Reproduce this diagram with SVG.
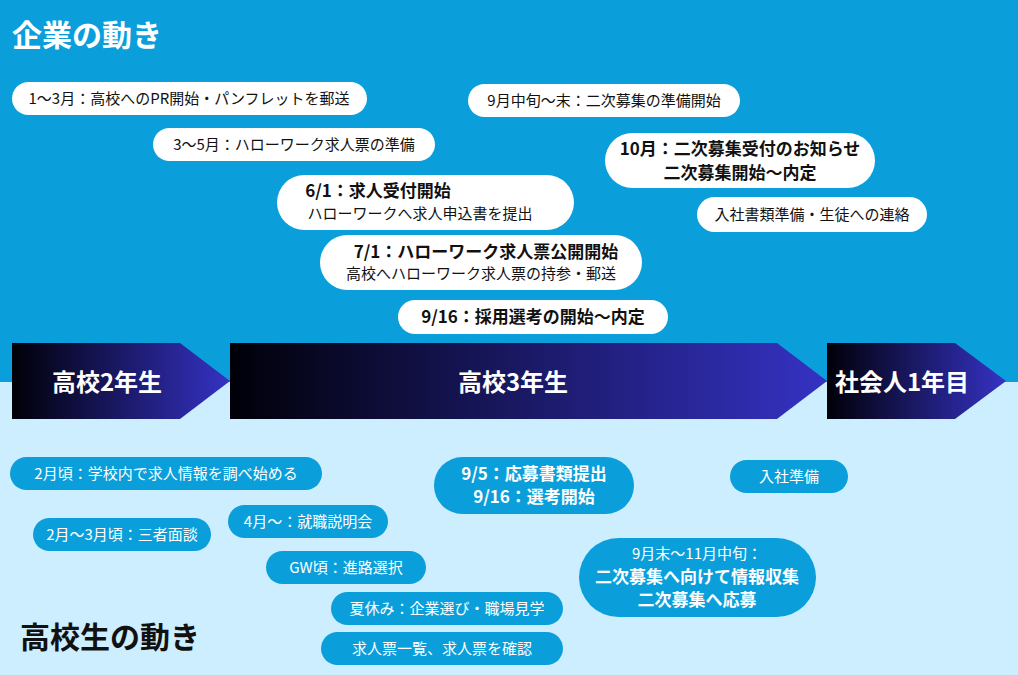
<svg xmlns="http://www.w3.org/2000/svg" width="1018" height="675" viewBox="0 0 1018 675">
<defs>
<linearGradient id="g" x1="0" y1="0" x2="1" y2="0"><stop offset="0" stop-color="#000008"/><stop offset="1" stop-color="#3532C4"/></linearGradient>
<style>
text{font-family:"Noto Sans CJK JP","Noto Sans",sans-serif;}
.w{fill:#fff}
.t{fill:#111;font-size:15px;text-anchor:middle}
.tb{fill:#111;font-size:17px;font-weight:bold;text-anchor:middle}
.b{fill:#0A9FDB}
.bt{fill:#fff;font-size:15px;text-anchor:middle}
.bb{fill:#fff;font-size:17px;font-weight:bold;text-anchor:middle}
.h{fill:#fff;font-size:24px;font-weight:bold;text-anchor:middle}
</style>
</defs>
<rect width="1018" height="382" fill="#0A9FDB"/>
<rect y="382" width="1018" height="293" fill="#CCEEFF"/>
<text x="12" y="46" font-size="30" font-weight="bold" fill="#fff">企業の動き</text>
<text x="20" y="648" font-size="30" font-weight="bold" fill="#111">高校生の動き</text>
<g id="c1"><rect class="w" x="12" y="82" width="355" height="33" rx="16.5"/><text class="t" x="189" y="104">1～3月：高校へのPR開始・パンフレットを郵送</text></g>
<g id="c2"><rect class="w" x="153" y="128" width="282" height="33" rx="16.5"/><text class="t" x="294" y="150">3～5月：ハローワーク求人票の準備</text></g>
<g id="c3"><rect class="w" x="277" y="175" width="297" height="55" rx="27.5"/><text class="tb" x="378" y="197">6/1：求人受付開始</text><text class="t" x="420" y="219">ハローワークへ求人申込書を提出</text></g>
<g id="c4"><rect class="w" x="320" y="235" width="322" height="55" rx="27.5"/><text class="tb" x="486" y="258">7/1：ハローワーク求人票公開開始</text><text class="t" x="481" y="279">高校へハローワーク求人票の持参・郵送</text></g>
<g id="c5"><rect class="w" x="398" y="300" width="270" height="34" rx="17"/><text class="tb" x="533" y="323">9/16：採用選考の開始～内定</text></g>
<g id="c6"><rect class="w" x="468" y="84" width="272" height="33" rx="16.5"/><text class="t" x="604" y="106">9月中旬～末：二次募集の準備開始</text></g>
<g id="c7"><rect class="w" x="605" y="133" width="270" height="55" rx="27.5"/><text class="tb" x="740" y="155">10月：二次募集受付のお知らせ</text><text class="tb" x="740" y="179">二次募集開始～内定</text></g>
<g id="c8"><rect class="w" x="697" y="197" width="230" height="35" rx="17.5"/><text class="t" x="812" y="220">入社書類準備・生徒への連絡</text></g>
<g id="y1"><polygon points="12,343 180,343 230,381 180,419 12,419" fill="url(#g)"/><text class="h" x="107" y="391">高校2年生</text></g>
<g id="y2"><polygon points="230,343 777,343 827,381 777,419 230,419" fill="url(#g)"/><text class="h" x="513" y="391">高校3年生</text></g>
<g id="y3"><polygon points="827,343 955,343 1006,381 955,419 827,419" fill="url(#g)"/><text class="h" x="902" y="391">社会人1年目</text></g>
<g id="s1"><rect class="b" x="10" y="457" width="312" height="33" rx="16.5"/><text class="bt" x="166" y="479">2月頃：学校内で求人情報を調べ始める</text></g>
<g id="s2"><rect class="b" x="33" y="518" width="178" height="33" rx="16.5"/><text class="bt" x="122" y="540">2月～3月頃：三者面談</text></g>
<g id="s3"><rect class="b" x="228" y="505" width="160" height="33" rx="16.5"/><text class="bt" x="308" y="527">4月～：就職説明会</text></g>
<g id="s4"><rect class="b" x="266" y="551" width="160" height="33" rx="16.5"/><text class="bt" x="346" y="573">GW頃：進路選択</text></g>
<g id="s5"><rect class="b" x="331" y="592" width="232" height="33" rx="16.5"/><text class="bt" x="447" y="614">夏休み：企業選び・職場見学</text></g>
<g id="s6"><rect class="b" x="321" y="632" width="242" height="33" rx="16.5"/><text class="bt" x="442" y="654">求人票一覧、求人票を確認</text></g>
<g id="s7"><rect class="b" x="434" y="457" width="200" height="57" rx="28.5"/><text class="bb" x="534" y="480">9/5：応募書類提出</text><text class="bb" x="534" y="503">9/16：選考開始</text></g>
<g id="s8"><rect class="b" x="730" y="460" width="118" height="33" rx="16.5"/><text class="bt" x="789" y="482">入社準備</text></g>
<g id="s9"><rect class="b" x="579" y="538" width="237" height="79" rx="39.5"/><text class="bt" x="697" y="559">9月末～11月中旬：</text><text class="bb" x="697" y="583">二次募集へ向けて情報収集</text><text class="bb" x="697" y="606">二次募集へ応募</text></g>
<g id="connectors"/>
</svg>
